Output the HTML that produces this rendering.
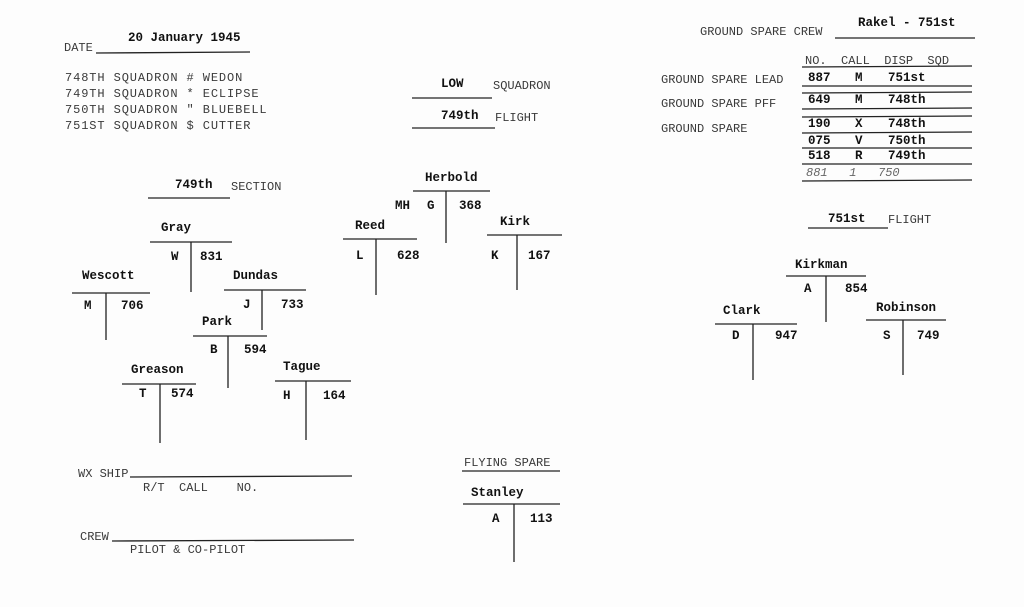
<!DOCTYPE html>
<html><head><meta charset="utf-8"><style>
html,body{margin:0;padding:0;background:#fff;}
#p{position:relative;width:1024px;height:607px;overflow:hidden;background:#fdfdfd;}
.t{position:absolute;font-family:"Liberation Mono",monospace;font-size:12px;color:#3a3a3a;white-space:pre;line-height:14px;}
.b{position:absolute;font-family:"Liberation Mono",monospace;font-weight:bold;font-size:12.5px;color:#111;white-space:pre;line-height:14px;}
.w{letter-spacing:0.9px;}
svg{position:absolute;left:0;top:0;}
</style></head><body><div id="p">
<svg width="1024" height="607" stroke="#222" stroke-width="1.3" fill="none">
<line x1="96" y1="53" x2="250" y2="52"/>
<line x1="412" y1="98" x2="492" y2="98"/>
<line x1="412" y1="128" x2="495" y2="128"/>
<line x1="148" y1="198" x2="230" y2="198"/>
<line x1="835" y1="38" x2="975" y2="38"/>
<line x1="808" y1="228" x2="888" y2="228"/>
<line x1="802" y1="67" x2="972" y2="66"/>
<line x1="802" y1="86" x2="972" y2="86"/>
<line x1="802" y1="93" x2="972" y2="92"/>
<line x1="802" y1="109" x2="972" y2="108"/>
<line x1="802" y1="117" x2="972" y2="116"/>
<line x1="802" y1="133" x2="972" y2="132"/>
<line x1="802" y1="148" x2="972" y2="148"/>
<line x1="802" y1="164" x2="972" y2="164"/>
<line x1="802" y1="181" x2="972" y2="180"/>
<line x1="150" y1="242" x2="232" y2="242"/><line x1="191" y1="242" x2="191" y2="292"/>
<line x1="72" y1="293" x2="150" y2="293"/><line x1="106" y1="293" x2="106" y2="340"/>
<line x1="224" y1="290" x2="306" y2="290"/><line x1="262" y1="290" x2="262" y2="330"/>
<line x1="193" y1="336" x2="267" y2="336"/><line x1="228" y1="336" x2="228" y2="388"/>
<line x1="122" y1="384" x2="196" y2="384"/><line x1="160" y1="384" x2="160" y2="443"/>
<line x1="275" y1="381" x2="351" y2="381"/><line x1="306" y1="381" x2="306" y2="440"/>
<line x1="343" y1="239" x2="417" y2="239"/><line x1="376" y1="239" x2="376" y2="295"/>
<line x1="413" y1="191" x2="490" y2="191"/><line x1="446" y1="191" x2="446" y2="243"/>
<line x1="487" y1="235" x2="562" y2="235"/><line x1="517" y1="235" x2="517" y2="290"/>
<line x1="715" y1="324" x2="797" y2="324"/><line x1="753" y1="324" x2="753" y2="380"/>
<line x1="786" y1="276" x2="866" y2="276"/><line x1="826" y1="276" x2="826" y2="322"/>
<line x1="866" y1="320" x2="946" y2="320"/><line x1="903" y1="320" x2="903" y2="375"/>
<line x1="463" y1="504" x2="560" y2="504"/><line x1="514" y1="504" x2="514" y2="562"/>
<line x1="130" y1="477" x2="352" y2="476"/>
<line x1="112" y1="541" x2="354" y2="540"/>
<line x1="462" y1="471" x2="560" y2="471"/>
</svg>

<div class="t" style="left:64px;top:41px">DATE</div>
<div class="b" style="left:128px;top:31px">20 January 1945</div>
<div class="t w" style="left:65px;top:71px">748TH SQUADRON # WEDON</div>
<div class="t w" style="left:65px;top:87px">749TH SQUADRON * ECLIPSE</div>
<div class="t w" style="left:65px;top:103px">750TH SQUADRON " BLUEBELL</div>
<div class="t w" style="left:65px;top:119px">751ST SQUADRON $ CUTTER</div>

<div class="b" style="left:441px;top:77px">LOW</div>
<div class="t" style="left:493px;top:79px">SQUADRON</div>
<div class="b" style="left:441px;top:109px">749th</div>
<div class="t" style="left:495px;top:111px">FLIGHT</div>
<div class="b" style="left:175px;top:178px">749th</div>
<div class="t" style="left:231px;top:180px">SECTION</div>

<div class="t" style="left:700px;top:25px">GROUND SPARE CREW</div>
<div class="b" style="left:858px;top:16px">Rakel - 751st</div>
<div class="t" style="left:805px;top:54px">NO.  CALL  DISP  SQD</div>
<div class="t" style="left:661px;top:73px">GROUND SPARE LEAD</div>
<div class="t" style="left:661px;top:97px">GROUND SPARE PFF</div>
<div class="t" style="left:661px;top:122px">GROUND SPARE</div>
<div class="b" style="left:808px;top:71px">887</div><div class="b" style="left:855px;top:71px">M</div><div class="b" style="left:888px;top:71px">751st</div>
<div class="b" style="left:808px;top:93px">649</div><div class="b" style="left:855px;top:93px">M</div><div class="b" style="left:888px;top:93px">748th</div>
<div class="b" style="left:808px;top:117px">190</div><div class="b" style="left:855px;top:117px">X</div><div class="b" style="left:888px;top:117px">748th</div>
<div class="b" style="left:808px;top:134px">075</div><div class="b" style="left:855px;top:134px">V</div><div class="b" style="left:888px;top:134px">750th</div>
<div class="b" style="left:808px;top:149px">518</div><div class="b" style="left:855px;top:149px">R</div><div class="b" style="left:888px;top:149px">749th</div>
<div class="t" style="left:806px;top:166px;font-style:italic;color:#666">881   1   750</div>
<div class="b" style="left:828px;top:212px">751st</div>
<div class="t" style="left:888px;top:213px">FLIGHT</div>

<div class="b" style="left:161px;top:221px">Gray</div>
<div class="b" style="left:171px;top:250px">W</div><div class="b" style="left:200px;top:250px">831</div>
<div class="b" style="left:82px;top:269px">Wescott</div>
<div class="b" style="left:84px;top:299px">M</div><div class="b" style="left:121px;top:299px">706</div>
<div class="b" style="left:233px;top:269px">Dundas</div>
<div class="b" style="left:243px;top:298px">J</div><div class="b" style="left:281px;top:298px">733</div>
<div class="b" style="left:202px;top:315px">Park</div>
<div class="b" style="left:210px;top:343px">B</div><div class="b" style="left:244px;top:343px">594</div>
<div class="b" style="left:131px;top:363px">Greason</div>
<div class="b" style="left:139px;top:387px">T</div><div class="b" style="left:171px;top:387px">574</div>
<div class="b" style="left:283px;top:360px">Tague</div>
<div class="b" style="left:283px;top:389px">H</div><div class="b" style="left:323px;top:389px">164</div>
<div class="b" style="left:355px;top:219px">Reed</div>
<div class="b" style="left:356px;top:249px">L</div><div class="b" style="left:397px;top:249px">628</div>
<div class="b" style="left:425px;top:171px">Herbold</div>
<div class="b" style="left:395px;top:199px">MH</div><div class="b" style="left:427px;top:199px">G</div><div class="b" style="left:459px;top:199px">368</div>
<div class="b" style="left:500px;top:215px">Kirk</div>
<div class="b" style="left:491px;top:249px">K</div><div class="b" style="left:528px;top:249px">167</div>
<div class="b" style="left:723px;top:304px">Clark</div>
<div class="b" style="left:732px;top:329px">D</div><div class="b" style="left:775px;top:329px">947</div>
<div class="b" style="left:795px;top:258px">Kirkman</div>
<div class="b" style="left:804px;top:282px">A</div><div class="b" style="left:845px;top:282px">854</div>
<div class="b" style="left:876px;top:301px">Robinson</div>
<div class="b" style="left:883px;top:329px">S</div><div class="b" style="left:917px;top:329px">749</div>

<div class="t" style="left:78px;top:467px">WX SHIP</div>
<div class="t" style="left:143px;top:481px">R/T  CALL    NO.</div>
<div class="t" style="left:80px;top:530px">CREW</div>
<div class="t" style="left:130px;top:543px">PILOT &amp; CO-PILOT</div>
<div class="t" style="left:464px;top:456px">FLYING SPARE</div>
<div class="b" style="left:471px;top:486px">Stanley</div>
<div class="b" style="left:492px;top:512px">A</div><div class="b" style="left:530px;top:512px">113</div>
</div></body></html>
